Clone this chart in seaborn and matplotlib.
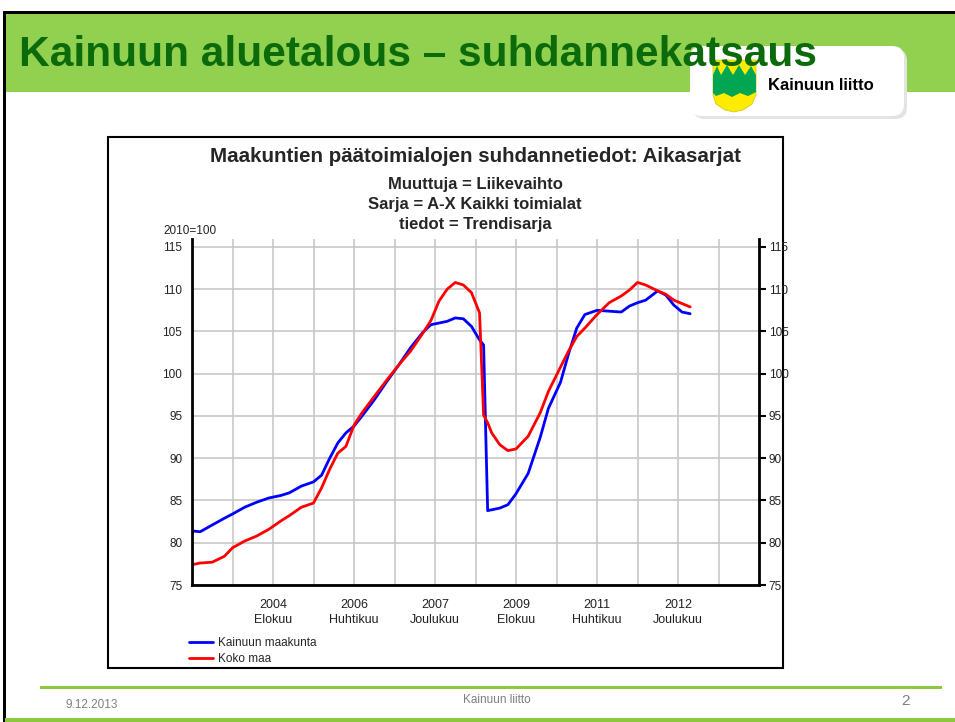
import matplotlib
matplotlib.use("Agg")
import matplotlib.pyplot as plt
from matplotlib.patches import Rectangle, FancyBboxPatch, Polygon
import seaborn as sns
import pandas as pd

# kuukaudet joulukuusta 2002 lukien, 2010=100
months = [0, 2, 5, 8, 10, 13, 16, 19, 22, 24, 27, 30, 32, 34, 36, 38, 40, 42, 45,
          48, 51, 54, 57, 59, 61, 63, 65, 67, 69, 71, 72, 73, 74, 76, 78, 80, 83,
          86, 88, 91, 93, 95, 97, 100, 103, 106, 108, 110, 112, 115, 117, 119, 121, 123]
kainuu = [81.4, 81.3, 82.1, 82.9, 83.4, 84.2, 84.8, 85.3, 85.6, 85.9, 86.7, 87.2, 88.0,
          90.0, 91.8, 93.0, 93.8, 95.0, 96.9, 99.0, 101.0, 103.1, 104.9, 105.8, 106.0,
          106.2, 106.6, 106.5, 105.6, 104.0, 103.4, 83.8, 83.9, 84.1, 84.5, 85.8, 88.2,
          92.5, 95.9, 99.0, 102.4, 105.4, 107.0, 107.5, 107.4, 107.3, 108.0, 108.4,
          108.7, 109.8, 109.3, 108.1, 107.3, 107.1]
koko_maa = [77.4, 77.6, 77.7, 78.4, 79.4, 80.2, 80.8, 81.6, 82.6, 83.2, 84.2, 84.7, 86.5,
            88.7, 90.6, 91.4, 93.9, 95.4, 97.3, 99.2, 101.0, 102.7, 104.8, 106.3, 108.6,
            110.0, 110.8, 110.5, 109.6, 107.2, 95.1, 94.2, 93.0, 91.6, 90.9, 91.1, 92.6,
            95.4, 97.9, 100.8, 102.7, 104.4, 105.4, 107.0, 108.4, 109.2, 109.9, 110.8,
            110.5, 109.8, 109.4, 108.7, 108.3, 107.9]

tick_pos = [20, 40, 60, 80, 100, 120]
tick_labels = ["2004\nElokuu", "2006\nHuhtikuu", "2007\nJoulukuu",
               "2009\nElokuu", "2011\nHuhtikuu", "2012\nJoulukuu"]

df = pd.DataFrame({
    "kk": months * 2,
    "arvo": kainuu + koko_maa,
    "sarja": ["Kainuun maakunta"] * len(months) + ["Koko maa"] * len(months),
})

sns.set_style("white")
plt.rcParams["font.family"] = ["Liberation Sans", "DejaVu Sans"]

W, H = 955, 722
fig = plt.figure(figsize=(W / 100, H / 100), dpi=100)

# dian tausta pikseleinä
bg = fig.add_axes([0, 0, 1, 1])
bg.set_xlim(0, W)
bg.set_ylim(H, 0)
bg.axis("off")

green = "#92D050"
bg.add_patch(Rectangle((5, 13), W - 5, 79, color=green, lw=0))
bg.add_patch(Rectangle((3, 11), W - 3, 2.5, color="black", lw=0))
bg.add_patch(Rectangle((3, 11), 2.5, H - 11, color="black", lw=0))

# logo
bg.add_patch(FancyBboxPatch((693, 49), 214, 70, boxstyle="round,pad=0,rounding_size=12",
                            fc="#e3e3e3", ec="none"))
bg.add_patch(FancyBboxPatch((690, 46), 214, 70, boxstyle="round,pad=0,rounding_size=12",
                            fc="white", ec="none"))
shield = [(713, 60), (756, 60), (756, 95), (752, 104), (743, 110), (734, 112),
          (725, 110), (716, 104), (713, 95)]
bg.add_patch(Polygon(shield, closed=True, fc="#FFEB00", ec="#c8c800", lw=0.5))
trees = [(713, 75), (717, 66), (721, 75), (727, 65), (733, 75), (739, 65), (745, 75),
         (751, 66), (756, 75), (756, 92), (748, 96), (740, 93), (732, 97), (724, 93),
         (716, 96), (713, 93)]
bg.add_patch(Polygon(trees, closed=True, fc="#00A651", ec="none"))
bg.text(768, 86, "Kainuun liitto", fontsize=12, fontweight="bold", color="black",
        va="center", ha="left")

bg.text(19, 55, "Kainuun aluetalous – suhdannekatsaus", fontsize=30.6, fontweight="bold",
        color="#0B6B0B", va="center", ha="left")

# kuvan kehys
bg.add_patch(Rectangle((108, 137), 675, 531, fill=False, ec="black", lw=1.5))
bg.text(475, 157, "Maakuntien päätoimialojen suhdannetiedot: Aikasarjat",
        fontsize=14.8, fontweight="bold", ha="center", va="center")
bg.text(475, 185, "Muuttuja = Liikevaihto", fontsize=12, fontweight="bold",
        ha="center", va="center")
bg.text(475, 204.5, "Sarja = A-X Kaikki toimialat", fontsize=12, fontweight="bold",
        ha="center", va="center")
bg.text(475, 224, "tiedot = Trendisarja", fontsize=12, fontweight="bold",
        ha="center", va="center")
bg.text(163, 231, "2010=100", fontsize=8.5, ha="left", va="center", color="#222222")

# alatunniste
bg.add_patch(Rectangle((40, 686), 902, 3, color="#8DC63F", lw=0))
bg.add_patch(Rectangle((5, 718), W - 5, 4, color="#8DC63F", lw=0))
bg.text(65, 705, "9.12.2013", fontsize=8.5, color="#7f7f7f", ha="left", va="center")
bg.text(497, 700, "Kainuun liitto", fontsize=8.5, color="#7f7f7f", ha="center", va="center")
bg.text(910, 701, "2", fontsize=11, color="#7f7f7f", ha="right", va="center")

# kuvaaja
ax = fig.add_axes([192 / W, 1 - 585 / H, 567 / W, (585 - 238.5) / H])
sns.lineplot(data=df, x="kk", y="arvo", hue="sarja",
             palette={"Kainuun maakunta": "#0000FF", "Koko maa": "#FF0000"},
             linewidth=2, ax=ax)
ax.set_xlim(0, 140)
ax.set_ylim(75, 116)
ax.set_xticks(range(0, 141, 10))
ax.set_xticklabels([tick_labels[tick_pos.index(t)] if t in tick_pos else ""
                    for t in range(0, 141, 10)])
ax.set_yticks(range(75, 116, 5))
ax.grid(True, color="#c8c8c8", lw=1.2)
ax.set_axisbelow(True)
ax.set_xlabel("")
ax.set_ylabel("")
for side in ["left", "bottom", "right"]:
    ax.spines[side].set_color("black")
    ax.spines[side].set_linewidth(2)
ax.spines["top"].set_visible(False)
ax.tick_params(axis="both", direction="out", length=5, width=1.5, color="black",
               labelsize=8.5, labelcolor="#222222", pad=2)
ax.tick_params(axis="y", right=True, labelright=True)
ax.tick_params(axis="x", length=7, pad=3, labelsize=9)
for lab in ax.get_xticklabels():
    lab.set_linespacing(1.4)

sns.move_legend(ax, "upper left", bbox_to_anchor=(189 / W, 1 - 637 / H),
                bbox_transform=fig.transFigure, title=None, frameon=False,
                fontsize=8.5, handlelength=2.0, handletextpad=0.45, labelspacing=0.35,
                borderaxespad=0, borderpad=0)

fig.savefig("out.png", dpi=100)
